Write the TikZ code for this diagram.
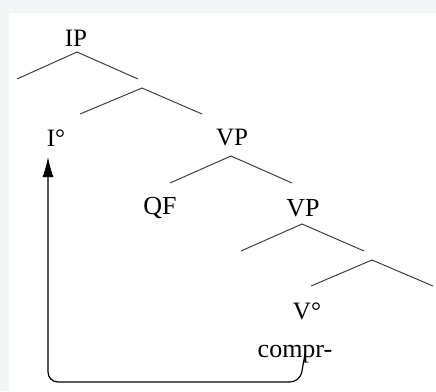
\documentclass[tikz,border=0pt]{standalone}
\usepackage{fontspec}
\setmainfont{Liberation Serif}
\usetikzlibrary{arrows.meta}
\definecolor{bgband}{HTML}{F2F6F7}
\definecolor{treeline}{HTML}{404040}
\tikzset{
  lab/.style={inner sep=0pt, font=\fontsize{25}{28}\selectfont},
  labbig/.style={inner sep=0pt, font=\fontsize{26}{28}\selectfont},
  labword/.style={inner sep=0pt, font=\fontsize{26}{28}\selectfont},
  branch/.style={draw=treeline, line width=1pt},
  movearrow/.style={draw=black, line width=1.2pt, -{Latex[length=20pt,width=11pt]}, rounded corners=10pt}
}
\begin{document}
\begin{tikzpicture}[x=1pt,y=-1pt]
\fill[bgband] (0,0) rectangle (436,391);
\fill[white] (9,13) rectangle (436,391);
\useasboundingbox (0,0) rectangle (436,391);
% labels
\node[lab] (ip) at (76,38) {IP};
\node[lab] (i0) at (56,138) {I°};
\node[lab] (vp1) at (232,138) {VP};
\node[labbig] (qf) at (160,208) {QF};
\node[labbig] (vp2) at (303,208) {VP};
\node[lab] (v0) at (307,311) {V°};
\node[labword, anchor=base] (compr) at (295,357) {compr-};
% branch points
\coordinate (a1) at (77,52);  \coordinate (l1) at (17,79);  \coordinate (r1) at (138,79);
\coordinate (a2) at (142,88); \coordinate (l2) at (80,114); \coordinate (r2) at (202,114);
\coordinate (a3) at (231,156); \coordinate (l3) at (170,183); \coordinate (r3) at (292,183);
\coordinate (a4) at (302,224); \coordinate (l4) at (241,251); \coordinate (r4) at (364,251);
\coordinate (a5) at (372,260); \coordinate (l5) at (311,286); \coordinate (r5) at (433,286);
\draw[branch] (l1) -- (a1) -- (r1);
\draw[branch] (l2) -- (a2) -- (r2);
\draw[branch] (l3) -- (a3) -- (r3);
\draw[branch] (l4) -- (a4) -- (r4);
\draw[branch] (l5) -- (a5) -- (r5);
% movement arrow
\coordinate (src) at (305,354);
\coordinate (tgt) at (48,157);
\draw[movearrow] (src) -- (300,382) -- (48,382) -- (tgt);
\end{tikzpicture}
\end{document}
